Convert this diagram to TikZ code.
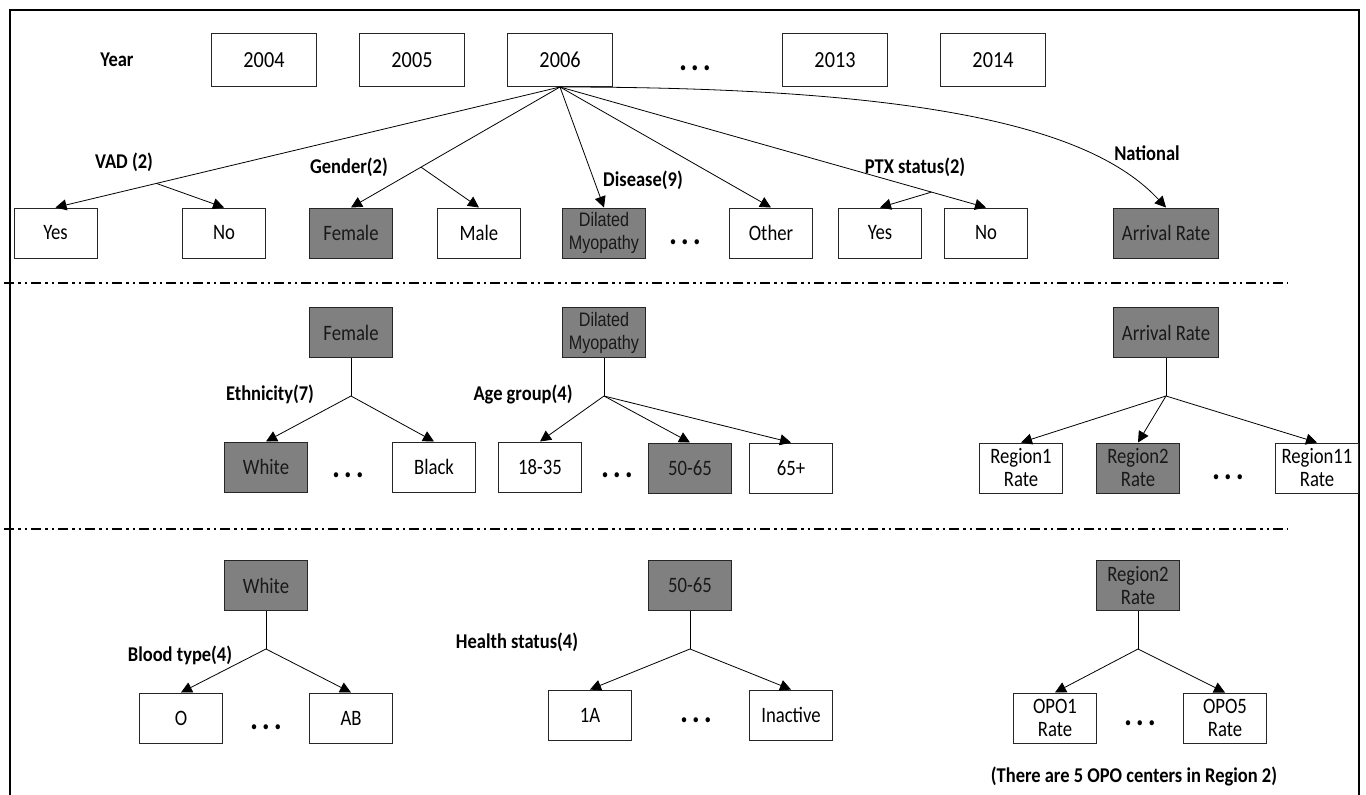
\documentclass[tikz,border=0pt]{standalone}
\usepackage{fontspec}
\setmainfont{Carlito}[FakeStretch=0.88]
\newfontfamily\boxfont{Carlito}[FakeStretch=0.85]
\newfontfamily\narrowfont{Liberation Sans}[FakeStretch=0.83]
\usetikzlibrary{calc}
\usetikzlibrary{arrows.meta,positioning}

\newcommand{\dotrun}{.\hspace{4pt}.\hspace{4pt}.}

\begin{document}
\begin{tikzpicture}[x=1pt,y=-1pt,auto,node distance=40pt,>={Triangle[length=11pt,width=11pt]},
    font=\boxfont\fontsize{22}{23}\selectfont]
      \tikzstyle{cell}=[draw=black!85,line width=1pt,rectangle,minimum width=83pt,minimum height=50pt,inner sep=0pt,align=center,fill=white]
      \tikzstyle{yearbox}=[cell,minimum width=105pt,minimum height=53pt,font=\fontsize{23}{23}\selectfont]
      \tikzstyle{hit}=[fill=gray,text=black!90]
      \tikzstyle{dil}=[font=\narrowfont\fontsize{19.5}{23}\selectfont]
      \tikzstyle{lbl}=[font=\fontsize{21}{23}\selectfont\bfseries,inner sep=0pt]
      \tikzstyle{more}=[font=\fontsize{34}{34}\selectfont\bfseries,inner sep=0pt]
      \tikzstyle{sep}=[line width=2.2pt,dash pattern=on 10pt off 4pt on 2.5pt off 4pt on 2.5pt off 4pt]
      \tikzstyle{link}=[line width=0.8pt]

      \useasboundingbox (0,0) rectangle (1366,795);
      \draw[line width=2pt] (10,795) -- (10,10) -- (1359,10) -- (1359,795);

      % years
      \node[lbl] (year) at (117,60) {Year};
      \node[yearbox] (y2004) at (264,60) {2004};
      \node[yearbox,right=42pt of y2004] (y2005) {2005};
      \node[yearbox,right=42pt of y2005] (y2006) {2006};
      \node[more] (ydots) at (695,68) {\dotrun};
      \node[yearbox,right=169pt of y2006] (y2013) {2013};
      \node[yearbox,right=52pt of y2013] (y2014) {2014};

      % first split
      \node[cell] (vyes) at (55.5,233) {Yes};
      \node[cell,right=84.5pt of vyes] (vno) {No};
      \node[cell,hit,right=43pt of vno] (gfem) {Female};
      \node[cell,right=44pt of gfem] (gmale) {Male};
      \node[cell,hit,dil,right=41pt of gmale] (ddil) {Dilated\\Myopathy};
      \node[more] (ddots) at (685,242) {\dotrun};
      \node[cell,right=83pt of ddil] (doth) {Other};
      \node[cell,right=25pt of doth] (pyes) {Yes};
      \node[cell,right=22pt of pyes] (pno) {No};
      \node[cell,hit,minimum width=105pt,right=85pt of pno] (narr) {Arrival Rate};

      \node[lbl] at (124,162) {VAD (2)};
      \node[lbl] at (349,167) {Gender(2)};
      \node[lbl] at (643,180) {Disease(9)};
      \node[lbl] at (915,167) {PTX status(2)};
      \node[lbl] at (1147,153) {National};

      \coordinate (jvad) at ($(y2006.south)!0.8!(vyes.north)$);
      \coordinate (jgen) at ($(y2006.south)!0.665!(gfem.north)$);
      \coordinate (jptx) at ($(y2006.south)!0.872!(pno.north)$);

      \draw[link,->] (y2006.south) -- (vyes.north);
      \draw[link,->] (jvad) -- (vno.north);
      \draw[link,->] (y2006.south) -- (gfem.north);
      \draw[link,->] (jgen) -- (gmale.north);
      \draw[link,->] (y2006.south) -- (ddil.north);
      \draw[link,->] (y2006.south) -- (doth.north);
      \draw[link,->] (y2006.south) -- (pno.north);
      \draw[link,->] (jptx) -- (pyes.north);
      \draw[link,->] (y2006.south) .. controls +(392,0) and +(-68,-73) .. (narr.north);

      \draw[sep] (4,283) -- (1288,283);

      % second split
      \node[cell,hit,below=48.5pt of gfem] (fem3) {Female};
      \node[cell,hit,dil,below=48.5pt of ddil] (dil3) {Dilated\\Myopathy};
      \node[cell,hit,minimum width=105pt,below=48.5pt of narr] (arr3) {Arrival Rate};

      \coordinate[below=38pt of fem3] (jeth);
      \coordinate[below=38pt of dil3] (jage);
      \coordinate[below=38pt of arr3] (jreg);

      \node[lbl] at (270,394) {Ethnicity(7)};
      \node[lbl] at (523,394) {Age group(4)};

      \node[cell,hit] (white) at (266,467) {White};
      \node[more] at (348,475) {\dotrun};
      \node[cell,right=84pt of white] (black) {Black};
      \node[cell,right=22pt of black] (a1835) {18-35};
      \node[more] at (617,475) {\dotrun};
      \node[cell,hit] (a5065) at (690,468) {50-65};
      \node[cell,right=17pt of a5065] (a65) {65+};
      \node[cell] (reg1) at (1021,468) {Region1\\Rate};
      \node[cell,hit,right=33pt of reg1] (reg2) {Region2\\Rate};
      \node[more] at (1228,477) {\dotrun};
      \node[cell,right=95pt of reg2] (reg11) {Region11\\Rate};

      \draw[link] (fem3.south) -- (jeth);
      \draw[link,->] (jeth) -- (white.north);
      \draw[link,->] (jeth) -- (black.north);
      \draw[link] (dil3.south) -- (jage);
      \draw[link,->] (jage) -- (a1835.north);
      \draw[link,->] (jage) -- (a5065.north);
      \draw[link,->] (jage) -- (a65.north);
      \draw[link] (arr3.south) -- (jreg);
      \draw[link,->] (jreg) -- (reg1.north);
      \draw[link,->] (jreg) -- (reg2.north);
      \draw[link,->] (jreg) -- (reg11.north);

      \draw[sep] (4,529) -- (1288,529);

      % third split
      \node[cell,hit,below=67.5pt of white] (white4) {White};
      \node[cell,hit,below=66.5pt of a5065] (age4) {50-65};
      \node[cell,hit,below=66.5pt of reg2] (reg4) {Region2\\Rate};

      \coordinate[below=38pt of white4] (jblood);
      \coordinate[below=38pt of age4] (jhealth);
      \coordinate[below=38pt of reg4] (jopo);

      \node[lbl] at (180,655) {Blood type(4)};
      \node[lbl] at (517,642) {Health status(4)};

      \node[cell] (bo) at (181,718) {O};
      \node[more] at (266,727) {\dotrun};
      \node[cell,right=86pt of bo] (bab) {AB};
      \node[cell] (h1a) at (590,715) {1A};
      \node[more] at (696,720) {\dotrun};
      \node[cell,right=117pt of h1a] (hin) {Inactive};
      \node[cell] (opo1) at (1055,718) {OPO1\\Rate};
      \node[more] at (1140,723) {\dotrun};
      \node[cell,right=86pt of opo1] (opo5) {OPO5\\Rate};

      \draw[link] (white4.south) -- (jblood);
      \draw[link,->] (jblood) -- (bo.north);
      \draw[link,->] (jblood) -- (bab.north);
      \draw[link] (age4.south) -- (jhealth);
      \draw[link,->] (jhealth) -- (h1a.north);
      \draw[link,->] (jhealth) -- (hin.north);
      \draw[link] (reg4.south) -- (jopo);
      \draw[link,->] (jopo) -- (opo1.north);
      \draw[link,->] (jopo) -- (opo5.north);

      \node[lbl] (note) at (1134,776) {(There are 5 OPO centers in Region 2)};
    \end{tikzpicture}
\end{document}
